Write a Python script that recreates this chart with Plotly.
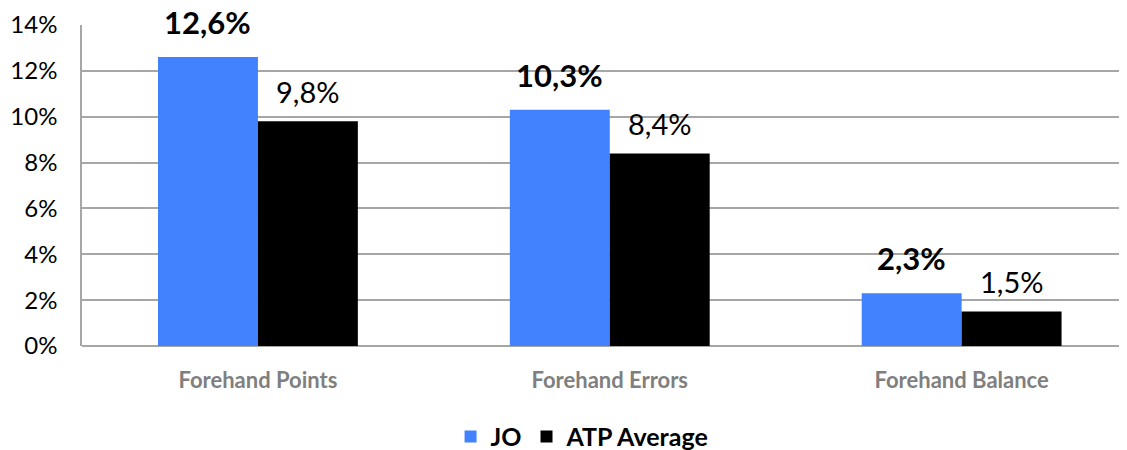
import plotly.graph_objects as go

categories = ["Forehand Points", "Forehand Errors", "Forehand Balance"]
jo_values = [12.6, 10.3, 2.3]
atp_values = [9.8, 8.4, 1.5]
series_names = ["JO", "ATP Average"]
y_ticks = [0, 2, 4, 6, 8, 10, 12, 14]
y_tick_labels = ["0%", "2%", "4%", "6%", "8%", "10%", "12%", "14%"]

BLUE = "#4282FF"
BLACK = "#000000"
FONT = "Lato, 'Open Sans', sans-serif"

fig = go.Figure()
fig.add_trace(go.Bar(x=categories, y=jo_values, name=series_names[0],
                     marker=dict(color=BLUE, line=dict(width=0))))
fig.add_trace(go.Bar(x=categories, y=atp_values, name=series_names[1],
                     marker=dict(color=BLACK, line=dict(width=0))))

def fmt(v):
    return f"{v:.1f}".replace(".", ",") + "%"

for c, v in zip(categories, jo_values):
    fig.add_annotation(x=c, y=v, xref="x", yref="y", text=f"<b>{fmt(v)}</b>",
                       showarrow=False, xshift=-50, yshift=35, yanchor="middle",
                       font=dict(family=FONT, size=31, color="#000000"))
for c, v in zip(categories, atp_values):
    fig.add_annotation(x=c, y=v, xref="x", yref="y", text=fmt(v),
                       showarrow=False, xshift=50, yshift=30, yanchor="middle",
                       font=dict(family=FONT, size=29, color="#000000"))

# the page body has an 8px margin, so the figure is 8px smaller
fig.update_layout(
    width=1119, height=442,
    margin=dict(l=74, r=0, t=17, b=104, autoexpand=False),
    paper_bgcolor="white", plot_bgcolor="white",
    barmode="group", bargap=0.432, bargroupgap=0,
    font=dict(family=FONT, color="#000000"),
    showlegend=True,
    legend=dict(orientation="h", x=0.479, xref="paper", xanchor="center",
                y=-0.283, yref="paper", yanchor="middle",
                font=dict(family=FONT, size=25, color="#000000", weight="bold"),
                itemwidth=30, traceorder="normal"),
)
fig.update_xaxes(range=[-0.5, 2.47], showgrid=False, showline=False, ticks="",
                 automargin=False,
                 tickfont=dict(family=FONT, size=22, color="#7F7F7F", weight="bold"),
                 ticklabelstandoff=19)
fig.update_yaxes(range=[0, 14], tickvals=y_ticks, ticktext=y_tick_labels,
                 automargin=False,
                 showgrid=True, gridcolor="#A6A6A6", gridwidth=1.5,
                 showline=True, linecolor="#A6A6A6", linewidth=1.5,
                 zeroline=True, zerolinecolor="#A6A6A6", zerolinewidth=1.5,
                 ticks="", ticklabelstandoff=18,
                 tickfont=dict(family=FONT, size=24, color="#000000"))

fig.write_html("out.html")
